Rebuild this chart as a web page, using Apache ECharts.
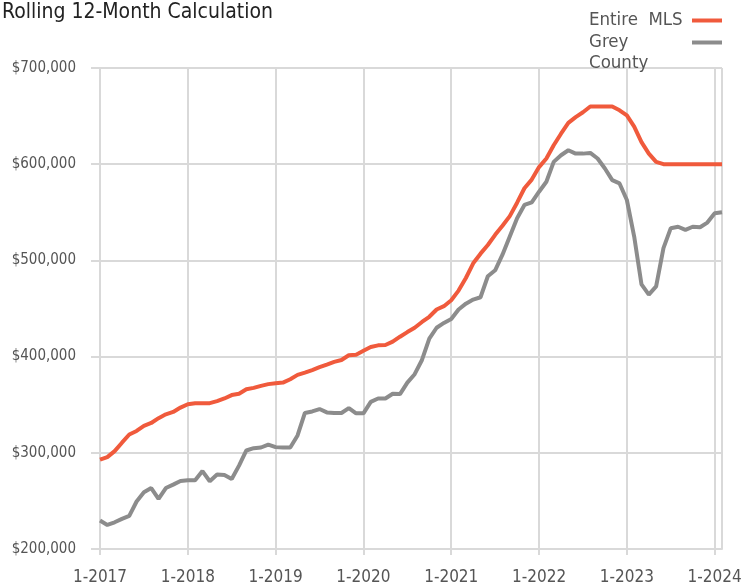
<!DOCTYPE html>
<html>
<head>
<meta charset="utf-8">
<script src="https://cdn.jsdelivr.net/npm/echarts@6/dist/echarts.min.js"></script>
<style>
html, body { margin: 0; padding: 0; background: #fff; }
#chart { width: 748px; height: 587px; }
</style>
</head>
<body>
<div id="chart"></div>
<script type="text/javascript">
// month labels 1-2017 .. 2-2024
var months = [];
for (var y = 2017; y <= 2024; y++) {
	for (var m = 1; m <= 12; m++) {
		if (y === 2024 && m > 2) break;
		months.push(m + '-' + y);
	}
}

// Entire MLS, rolling 12-month
var entireMls = [
	293000, 295500, 301700, 310500, 319000, 322700, 328000, 331000, 336000, 340000,
	342500, 347000, 350500, 351600, 351600, 351600, 353700, 356500, 360000, 361400,
	366000, 367500, 369600, 371400, 372400, 373000, 376500, 381000, 383400, 386000,
	389000, 391700, 394500, 396500, 401400, 402000, 406000, 410000, 411700, 412000,
	415500, 420700, 425500, 430000, 436000, 441400, 449000, 452400, 458600, 468600,
	481700, 497000, 507000, 516000, 526600, 536000, 546000, 560000, 575000, 584000,
	597000, 606000, 619700, 631700, 643000, 649000, 654000, 660000, 660000, 660000,
	660000, 656000, 650700, 639000, 623000, 611000, 602400, 600000, 600000, 600000,
	600000, 600000, 600000, 600000, 600000, 600000
];

// Grey County, rolling 12-month
var greyCounty = [
	229600, 225000, 227800, 231300, 234400, 249400, 258900, 263400, 252200, 263400,
	266900, 270700, 271400, 271400, 281000, 270400, 277400, 277000, 272800, 286700,
	302400, 304800, 305500, 308600, 305900, 305500, 305500, 318000, 341400, 343000,
	345500, 342000, 341400, 341400, 346500, 341000, 341000, 353000, 356500, 356500,
	361400, 361000, 373000, 381700, 396500, 418600, 430000, 435000, 439000, 449000,
	455000, 459300, 461700, 483500, 489700, 505900, 524800, 543800, 557600, 560300,
	571400, 581700, 602400, 609300, 614500, 611000, 611000, 611700, 605900, 595500,
	583400, 580000, 562800, 524800, 475000, 464500, 473000, 512800, 533500, 535000,
	531700, 535000, 534500, 539300, 549000, 550000
];

var seriesNames = ['Entire  MLS', 'Grey County'];
var colors = ['#f05a3c', '#8c8c8c'];
var font = '"Liberation Sans Narrow", "DejaVu Sans Condensed", sans-serif';
var gridColor = '#d9d9d9';

var myChart = echarts.init(document.getElementById('chart'));

var option = {
	animation: false,
	color: colors,
	title: {
		text: 'Rolling 12-Month Calculation',
		left: -3,
		top: -3,
		textStyle: { fontFamily: font, fontSize: 21, fontWeight: 'normal', color: '#222' }
	},
	legend: {
		orient: 'vertical',
		right: 21,
		top: 5,
		align: 'right',
		itemGap: -20,
		itemWidth: 30,
		itemHeight: 4,
		icon: 'rect',
		data: seriesNames,
		formatter: function (name) {
			// wrap the second entry like the original, text left aligned
			if (name === 'Grey County') return '\n{t|Grey}\n{t|County}';
			return '{t|' + name + '}';
		},
		textStyle: {
			width: 98,
			fontFamily: font, fontSize: 19, color: '#555', lineHeight: 21,
			rich: {
				t: { align: 'left', fontFamily: font, fontSize: 18.5, color: '#555', lineHeight: 21 }
			}
		}
	},
	grid: { left: 100, right: 26, top: 68, bottom: 38, containLabel: false },
	xAxis: {
		type: 'category',
		boundaryGap: false,
		data: months,
		axisLine: { lineStyle: { color: gridColor, width: 2 } },
		axisTick: {
			show: true, length: 6,
			interval: function (i) { return i % 12 === 0; },
			lineStyle: { color: gridColor, width: 2 }
		},
		axisLabel: {
			interval: function (i) { return i % 12 === 0; },
			margin: 20,
			fontFamily: font, fontSize: 17, color: '#555'
		},
		splitLine: {
			show: true,
			interval: function (i) { return i % 12 === 0 || i === months.length - 1; },
			lineStyle: { color: gridColor, width: 2 }
		}
	},
	yAxis: {
		type: 'value',
		min: 200000,
		max: 700000,
		interval: 100000,
		axisLine: { show: true, lineStyle: { color: gridColor, width: 2 } },
		axisTick: { show: true, length: 9, lineStyle: { color: gridColor, width: 2 } },
		axisLabel: {
			margin: 24,
			fontFamily: font, fontSize: 15, color: '#555',
			formatter: function (v) { return '$' + v.toLocaleString('en-US'); }
		},
		splitLine: { show: true, lineStyle: { color: gridColor, width: 2 } }
	},
	series: [
		{
			name: seriesNames[0],
			type: 'line',
			data: entireMls,
			showSymbol: false,
			lineStyle: { width: 4 },
			z: 3
		},
		{
			name: seriesNames[1],
			type: 'line',
			data: greyCounty,
			showSymbol: false,
			lineStyle: { width: 4 },
			z: 2
		}
	]
};

myChart.setOption(option);
</script>
</body>
</html>
